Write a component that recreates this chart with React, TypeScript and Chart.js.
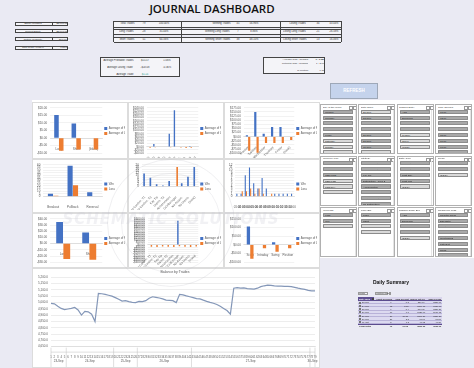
import React, { useEffect, useRef } from "react";
import { Chart, registerables } from "chart.js";
Chart.register(...registerables);

// ---------- DATA ----------
const tradeLabels = Array.from({ length: 79 }, (_, i) => String(i + 1));
const balance = [
  4992, 4989, 4970, 4953, 4943, 4948, 4953, 4960, 4941, 4900,
  4929, 4926, 4907, 4849, 5072, 5069, 5064, 5057, 5050, 5038,
  5026, 5011, 5014, 5006, 5001, 4999, 5009, 5006, 5014, 5033,
  5045, 5040, 5035, 5028, 5018, 5016, 5014, 4999, 5064, 5060,
  5052, 5045, 5038, 5030, 5028, 5018, 5009, 5001, 4994, 4984,
  4970, 4953, 4936, 4907, 5113, 5118, 5113, 5115, 5110, 5108,
  5106, 5113, 5125, 5132, 5137, 5135, 5132, 5130, 5130, 5127,
  5127, 5125, 5120, 5113, 5108, 5103, 5096, 5091, 5091,
];
const dayGroups = ["23-Sep", "24-Sep", "25-Sep", "26-Sep", "27-Sep", "30-Sep"];
const dayGroupSizes = [5, 14, 7, 16, 35, 2];

const avgNames = ["Average of Profit", "Average of Loss"];
const countNames = ["Win", "Loss"];

const sideCats = ["Long", "Short", "(blank)"];
const sideProfit = [15.2, 9.6, 0];
const sideLoss = [-8.4, -7.6, -7.6];

const strategyCats = ["No Confirm. T1", "No Confirm. T2", "Key Tie", "Distrib. T2", "Accumulation", "CCI/Bollinger", "No Accum.", "No Distrib.", "Ending Pattern", "(blank)"];
const strategyProfit = [0, 16, 0, 0, 80, 225, 0, 0, 4, 0];
const strategyLoss = [-6, -3, 0, 0, -4, 0, -5, -8, -6, 0];

const dayCats = ["Monday", "Tuesday", "Wednesday", "Thursday", "Friday", "(blank)"];
const dayProfit = [8, 150, 18, 58, 58, 0];
const dayLoss = [-85, -98, -38, -38, -38, -20];

const setupCats = ["Breakout", "Pullback", "Reversal"];
const setupWin = [5, 58, 8];
const setupLoss = [1, 21, 0];

const strategyCats9 = ["No Confirm. T1", "No Confirm. T2", "Key Tie", "Distrib. T2", "Accumulation", "CCI/Bollinger", "No Accum.", "No Distrib.", "(blank)"];
const strategyWin = [12, 8, 2, 1, 5, 0, 3, 9, 18];
const strategyLossCount = [0, 0, 0, 0, 0, 18, 0, 0, 0];

const timeCats = ["01:00", "02:00", "03:00", "04:00", "05:00", "06:00", "07:00", "08:00", "09:00", "10:00", "11:00", "12:00", "13:00", "14:00"];
const timeWin = [1, 1, 8, 11, 5, 3, 7, 3, 0, 1, 1, 1, 1, 1];
const timeLoss = [0, 2, 2, 3, 1, 3, 1, 0, 1, 0, 0, 0, 0, 0];

const dirCats = ["Long", "Short"];
const dirProfit = [35, 18];
const dirLoss = [-25, -26];

const pairProfit = [0, 0, 0, 0, 0, 553, 0, 0, 0];
const pairLoss = [-45, -50, -40, -45, -50, -30, -45, -50, -40];

const styleCats = ["Scalp", "Intraday", "Swing", "Position"];
const styleProfit = [105, 0, 15, 0];
const styleLoss = [-80, -20, -40, -20];

const equityRows = [
  ["Equity Invested", "$5,000.00"],
  ["Current Equity", "$5,090.00"],
  ["Return on Equity", "$90.00"],
  ["Total Profit / Loss %", "1.80%"],
];
const statsA = [["Total Trades", "79", "100.00%"], ["Long Trades", "28", "35.44%"], ["Short Trades", "51", "64.56%"]];
const statsB = [["Winning Trades", "45", "56.96%"], ["Winning Long Trades", "7", "8.86%"], ["Winning Short Trades", "38", "48.10%"]];
const statsC = [["Losing Trades", "34", "43.04%"], ["Losing Long Trades", "21", "26.58%"], ["Losing Short Trades", "13", "16.46%"]];
const avgRows = [["Average Profitable Trades", "$15.57", "1.06%"], ["Average Losing Trade", "-$18.08", "-0.36%"], ["Average Trade", "$1.14", ""]];
const riskRows = [["Average Risk : Reward", "1 : 0.86"], ["Potential Risk : Reward", "1 : 2.00"], ["", ""], ["R Multiple", "0.86"]];

const slicerData: [string, [string, number][]][] = [
  ["Day of the Week", [["Monday", 1], ["Tuesday", 1], ["Wednesday", 1], ["Thursday", 1], ["Friday", 1], ["Saturday", 0], ["Sunday", 0], ["(blank)", 0]]],
  ["Date Open", [["20-Sep", 0], ["23-Sep", 1], ["24-Sep", 1], ["25-Sep", 1], ["26-Sep", 1], ["27-Sep", 1], ["30-Sep", 1], ["01-Oct", 0]]],
  ["Session Entry", [["Asia", 1], ["European", 1], ["London", 1], ["New York", 1], ["Sydney", 0], ["Tokyo", 0], ["(blank)", 0]]],
  ["Time Opened", [["01:00", 1], ["02:00", 1], ["03:00", 1], ["04:00", 1], ["05:00", 1], ["06:00", 1], ["07:00", 1], ["08:00", 1]]],
  ["Currency Pair", [["AUD/USD", 1], ["EUR/USD", 1], ["GBP/USD", 1], ["NZD/USD", 0], ["USD/JPY", 0], ["(blank)", 0]]],
  ["Strategy", [["No Confirmation - Type 1", 1], ["No Confirmation - Type 2", 1], ["Key Tie", 1], ["Distribution - Type 2", 1], ["Accumulation", 1], ["CCI/Bollinger", 1], ["No Accumulation", 1], ["No Distribution", 1]]],
  ["Entry Type", [["Buy Entry", 1], ["Sell Entry", 1], ["Limit Buy", 1], ["Limit Sell", 1], ["(blank)", 0]]],
  ["Trend", [["Counter", 1], ["Pro", 1], ["(blank)", 0]]],
  ["Win/Loss", [["Loss", 1], ["Win", 1], ["(blank)", 0]]],
  ["Price Bar", [["Long", 1], ["Short", 1], ["0", 0], ["(blank)", 0]]],
  ["Session Close Box", [["Asia", 1], ["European", 1], ["London", 1], ["New York", 1], ["(blank)", 0]]],
  ["Reason for Loss", [["Counter Trend", 1], ["Bad Entry", 1], ["Emotional Decision", 1], ["Early Exit", 1], ["Overtrading", 1], ["Late Exit", 1], ["News", 1], ["Other", 1]]],
];

const summaryHeader = ["Date Open", "Count of Trades", "Sum of Profit", "Sum of Net P/L", "Sum of Loss"];
const summaryRows = [
  ["23-Sep", "6", "8.5", "256.24", "3250.80"],
  ["24-Sep", "13", "13.2", "3290.18", "3150.80"],
  ["25-Sep", "7", "8.4", "518.75", "3250.37"],
  ["26-Sep", "10", "7.8", "3138.06", "2980.15"],
  ["27-Sep", "20", "26.25", "3298.31", "3250.20"],
  ["30-Sep", "21", "2.5", "80.86", "80.50"],
  ["01-Oct", "2", "1.3", "40.12", "40.30"],
];
const summaryTotal = ["Grand Total", "79", "67.95", "3890.36", "3000.90"];

// ---------- STYLE ----------
const BLUE = "#4472c4";
const ORANGE = "#ed7d31";
const TXT = "#595959";
const FONT = "'Liberation Sans', Arial, sans-serif";

function barConfig(labels: string[], a: number[], b: number[], names: string[], min: number, max: number, step: number, zero: boolean, rotate: boolean, money: boolean) {
  return {
    type: "bar",
    data: {
      labels,
      datasets: [
        { label: names[0], data: a, backgroundColor: BLUE, categoryPercentage: 0.55, barPercentage: 0.95 },
        { label: names[1], data: b, backgroundColor: ORANGE, categoryPercentage: 0.55, barPercentage: 0.95 },
      ],
    },
    options: {
      animation: false,
      responsive: false,
      devicePixelRatio: 1,
      layout: { padding: { left: 1, right: 2, top: 3, bottom: 2 } },
      plugins: {
        legend: { position: "right", labels: { boxWidth: 3, boxHeight: 3, font: { size: 3, family: FONT }, color: TXT, padding: 2 } },
        tooltip: { enabled: false },
      },
      scales: {
        x: {
          position: zero ? { y: 0 } : "bottom",
          grid: { display: false },
          border: { color: "#c8c8c8", width: 0.5 },
          ticks: { font: { size: 3, family: FONT }, color: TXT, autoSkip: false, maxRotation: rotate ? 45 : 0, minRotation: rotate ? 45 : 0, padding: 1 },
        },
        y: {
          min, max,
          border: { display: false },
          grid: { color: "#e4e4e4", lineWidth: 0.5, drawTicks: false },
          ticks: {
            stepSize: step, autoSkip: false, font: { size: 3, family: FONT }, color: TXT, padding: 3,
            callback: (v: number) => (money ? (v < 0 ? "-$" : "$") + Math.abs(v).toFixed(2) : String(v)),
          },
        },
      },
    },
  };
}

const groupPlugin = {
  id: "dayGroups",
  afterDraw(chart: any) {
    const { ctx, chartArea } = chart;
    const x = chart.scales.x;
    const top = chartArea.bottom + 6;
    const bottom = chart.height - 1;
    ctx.save();
    ctx.strokeStyle = "#bfbfbf";
    ctx.lineWidth = 0.5;
    ctx.fillStyle = TXT;
    ctx.font = `3px ${FONT}`;
    ctx.textAlign = "center";
    ctx.textBaseline = "middle";
    let start = 0;
    const total = tradeLabels.length;
    dayGroupSizes.forEach((n, gi) => {
      const end = start + n - 1;
      const left = start === 0 ? x.left : (x.getPixelForValue(start - 1) + x.getPixelForValue(start)) / 2;
      const right = end === total - 1 ? x.right : (x.getPixelForValue(end) + x.getPixelForValue(end + 1)) / 2;
      ctx.beginPath();
      ctx.moveTo(left, chartArea.bottom + 1);
      ctx.lineTo(left, bottom);
      ctx.stroke();
      if (end === total - 1) {
        ctx.beginPath();
        ctx.moveTo(right, chartArea.bottom + 1);
        ctx.lineTo(right, bottom);
        ctx.stroke();
      }
      ctx.fillText(dayGroups[gi], (left + right) / 2, (top + bottom) / 2 + 1);
      start += n;
    });
    ctx.beginPath();
    ctx.moveTo(x.left, top - 0.5);
    ctx.lineTo(x.right, top - 0.5);
    ctx.stroke();
    ctx.restore();
  },
};

function lineConfig() {
  return {
    type: "line",
    data: {
      labels: tradeLabels,
      datasets: [{ label: "Balance", data: balance, borderColor: "#8497b8", borderWidth: 1.2, pointRadius: 0, tension: 0 }],
    },
    options: {
      animation: false,
      responsive: false,
      devicePixelRatio: 1,
      layout: { padding: { left: 2, right: 4, top: 0, bottom: 8 } },
      plugins: {
        legend: { display: false },
        tooltip: { enabled: false },
        title: { display: true, text: "Balance by Trades", font: { size: 3.5, family: FONT, weight: "normal" }, color: TXT, padding: { top: 2, bottom: 3 } },
      },
      scales: {
        x: {
          grid: { display: false },
          border: { color: "#d0d0d0", width: 0.5 },
          ticks: { font: { size: 2.8, family: FONT }, color: TXT, autoSkip: false, maxRotation: 0, minRotation: 0, padding: 1 },
        },
        y: {
          min: 4650, max: 5200,
          border: { display: false },
          grid: { color: "#e0e0e0", lineWidth: 0.6, drawTicks: false },
          ticks: {
            stepSize: 50, autoSkip: false, font: { size: 3, family: FONT }, color: TXT, padding: 3,
            callback: (v: number) => v.toLocaleString("en-US", { minimumFractionDigits: 1, maximumFractionDigits: 1 }),
          },
        },
      },
    },
    plugins: [groupPlugin],
  };
}

function ChartBox({ left, top, width, height, make }: { left: number; top: number; width: number; height: number; make: () => any }) {
  const ref = useRef<HTMLCanvasElement>(null);
  useEffect(() => {
    const chart = new Chart(ref.current as HTMLCanvasElement, make());
    return () => chart.destroy();
  }, []);
  return <canvas ref={ref} width={width} height={height} style={{ position: "absolute", left, top, width, height }} />;
}

// tiny text: rendered at 10px and scaled down (browsers clamp tiny font sizes)
const BASE = 10;
function Tx({ x, y, children, size = 2.6, align = "left", color = "#333", bold = false }: any) {
  const k = size / BASE;
  const style: any = {
    position: "absolute", top: y, fontSize: BASE, lineHeight: `${BASE * 1.15}px`, color, whiteSpace: "nowrap",
    fontWeight: bold ? 700 : 400, transform: `scale(${k})`,
  };
  if (align === "right") { style.right = 474 - x; style.transformOrigin = "right top"; }
  else if (align === "center") { style.left = x - 100; style.width = 200; style.textAlign = "center"; style.transformOrigin = "center top"; }
  else { style.left = x; style.transformOrigin = "left top"; }
  return <div style={style}>{children}</div>;
}

function Slicer({ x, y, title, items }: { x: number; y: number; title: string; items: [string, number][] }) {
  return (
    <div style={{ position: "absolute", left: x, top: y, width: 37, height: 50, background: "#fff", border: "0.6px solid #b0b0b0", overflow: "hidden", boxSizing: "border-box" }}>
      <div style={{ position: "absolute", left: 1.5, top: 0.6, fontSize: BASE, lineHeight: "11px", color: "#333", whiteSpace: "nowrap", transform: "scale(0.25)", transformOrigin: "left top" }}>{title}</div>
      <div style={{ position: "absolute", left: 28, top: 1, width: 2, height: 2, border: "0.4px solid #999" }} />
      <div style={{ position: "absolute", left: 32, top: 1, width: 2, height: 2, border: "0.4px solid #999" }} />
      {items.map(([label, on], i) => (
        <div key={i} style={{ position: "absolute", left: 2, top: 4.7 + i * 5.8, width: 30, height: 4.2, background: on ? "#a9a9a9" : "#d9d9d9", border: "0.4px solid #8c8c8c", boxSizing: "border-box", borderRadius: 0.6, overflow: "hidden" }}>
          <div style={{ position: "absolute", left: 1.3, top: 0.5, fontSize: BASE, lineHeight: "11px", color: "#222", whiteSpace: "nowrap", transform: "scale(0.25)", transformOrigin: "left top" }}>{label}</div>
        </div>
      ))}
      <div style={{ position: "absolute", left: 33.5, top: 4.5, width: 1.2, height: 44, background: "#e4e4e4" }} />
    </div>
  );
}

export default function App() {
  useEffect(() => {
    document.body.style.margin = "0";
  }, []);

  const cols = [32, 128, 224];
  const rows = [102, 159, 213];
  const rowH = [57, 54, 55];
  const charts = [
    () => barConfig(sideCats, sideProfit, sideLoss, avgNames, -10, 20, 5, true, false, true),
    () => barConfig(strategyCats, strategyProfit, strategyLoss, avgNames, -40, 240, 20, true, true, true),
    () => barConfig(dayCats, dayProfit, dayLoss, avgNames, -100, 175, 25, true, true, true),
    () => barConfig(setupCats, setupWin, setupLoss, countNames, 0, 60, 5, false, false, false),
    () => barConfig(strategyCats9, strategyWin, strategyLossCount, countNames, 0, 20, 2, false, true, false),
    () => barConfig(timeCats, timeWin, timeLoss, countNames, 0, 12, 1, false, false, false),
    () => barConfig(dirCats, dirProfit, dirLoss, avgNames, -30, 40, 10, true, false, true),
    () => barConfig(strategyCats9, pairProfit, pairLoss, avgNames, -400, 600, 50, true, true, true),
    () => barConfig(styleCats, styleProfit, styleLoss, avgNames, -100, 150, 50, true, false, true),
  ];

  const slX = [320, 358, 396.5, 435];
  const slY = [104, 155.5, 207];
  const sumColsRight = [0, 392, 408.5, 425, 441.5];
  const rowY = (i: number) => 300.8 + i * 3.3;

  return (
    <div style={{ position: "absolute", left: 0, top: 0, width: 474, height: 368, background: "#eaeaf3", overflow: "hidden", fontFamily: FONT }}>
      {/* Title */}
      <div style={{ position: "absolute", left: 112, top: 0, width: 200, textAlign: "center", fontSize: 11.5, fontWeight: 600, fontFamily: "'Open Sans', sans-serif", color: "#111", lineHeight: "17px" }}>JOURNAL DASHBOARD</div>

      {/* Equity table */}
      {equityRows.map((r, i) => {
        const top = [21.5, 29.3, 37.3, 45.5][i];
        return (
          <React.Fragment key={i}>
            <div style={{ position: "absolute", left: 14.5, top, width: 53.5, height: 4, border: "0.6px solid #444", boxSizing: "border-box", background: "#f4f4f8" }}>
              <div style={{ position: "absolute", left: 36, top: 0, width: 0.5, height: 3, background: "#444" }} />
            </div>
            <Tx x={32.5} y={top + 0.6} size={2.5} align="center">{r[0]}</Tx>
            <Tx x={67} y={top + 0.6} size={2.5} align="right">{r[1]}</Tx>
          </React.Fragment>
        );
      })}

      {/* Stats table */}
      <div style={{ position: "absolute", left: 113, top: 21, width: 229, height: 20.5, borderLeft: "0.6px solid #444", borderRight: "0.6px solid #444", boxSizing: "border-box" }}>
        {[0, 1, 2].map((i) => (
          <div key={i} style={{ position: "absolute", left: 0, right: 0, top: i * 7.8, height: 4.7, borderTop: "0.6px solid #444", borderBottom: "0.6px solid #444", background: "#f4f4f8" }} />
        ))}
        <div style={{ position: "absolute", left: 67, top: 0, width: 0.6, height: 20.5, background: "#444" }} />
        <div style={{ position: "absolute", left: 166, top: 0, width: 0.6, height: 20.5, background: "#444" }} />
      </div>
      {[statsA, statsB, statsC].map((sec, si) =>
        sec.map((r, i) => {
          const y = 22.4 + i * 7.8;
          const lx = [134, 230, 306][si];
          const cx = [144, 238, 318][si];
          const px = [164, 254, 334][si];
          return (
            <React.Fragment key={si + "-" + i}>
              <Tx x={lx} y={y} size={2.6} align="right">{r[0]}</Tx>
              <Tx x={cx} y={y} size={2.6} align="center">{r[1]}</Tx>
              <Tx x={px} y={y} size={2.6} align="center">{r[2]}</Tx>
            </React.Fragment>
          );
        })
      )}

      {/* Average box */}
      <div style={{ position: "absolute", left: 100, top: 57, width: 80, height: 20, border: "0.6px solid #444", boxSizing: "border-box", background: "#f4f4f8" }} />
      {avgRows.map((r, i) => (
        <React.Fragment key={i}>
          <Tx x={133} y={58.8 + i * 7.3} size={2.6} align="right">{r[0]}</Tx>
          <Tx x={145} y={58.8 + i * 7.3} size={2.6} align="center" color={i === 2 ? "#2e9e8f" : "#333"}>{r[1]}</Tx>
          <Tx x={167} y={58.8 + i * 7.3} size={2.6} align="center">{r[2]}</Tx>
        </React.Fragment>
      ))}

      {/* Risk box */}
      <div style={{ position: "absolute", left: 263, top: 57, width: 62, height: 16.5, border: "0.6px solid #444", boxSizing: "border-box", background: "#f4f4f8" }} />
      {riskRows.map((r, i) => (
        <React.Fragment key={i}>
          <Tx x={308} y={58.4 + i * 3.6} size={2.5} align="right">{r[0]}</Tx>
          <Tx x={324.3} y={58.4 + i * 3.6} size={2.5} align="right" bold={i === 0}>{r[1]}</Tx>
        </React.Fragment>
      ))}

      {/* Refresh button */}
      <div style={{ position: "absolute", left: 329.5, top: 83, width: 48.5, height: 16, background: "#c5d3ec", border: "0.8px solid #9ea8b8", boxSizing: "border-box" }} />
      <Tx x={353.7} y={88.2} size={4.5} align="center" color="#ffffff" bold>REFRESH</Tx>

      {/* White panel */}
      <div style={{ position: "absolute", left: 32, top: 100, width: 442, height: 158, background: "#fff" }} />
      <div style={{ position: "absolute", left: 32, top: 258, width: 288, height: 110, background: "#fff" }} />

      {/* Chart cells */}
      {charts.map((make, i) => {
        const c = i % 3;
        const r = Math.floor(i / 3);
        return (
          <React.Fragment key={i}>
            <div style={{ position: "absolute", left: cols[c], top: rows[r], width: 96, height: rowH[r], border: "0.5px solid #dcdcdc", boxSizing: "border-box" }} />
            <ChartBox left={cols[c] + 1} top={rows[r] + 1} width={94} height={rowH[r] - 2} make={make} />
          </React.Fragment>
        );
      })}

      {/* Line chart */}
      <div style={{ position: "absolute", left: 32, top: 268, width: 288, height: 100, border: "0.5px solid #dcdcdc", boxSizing: "border-box" }} />
      <ChartBox left={33} top={268} width={286} height={100} make={lineConfig} />

      {/* Watermark */}
      <div style={{ position: "absolute", left: 107, top: 159, width: 126, height: 126, borderRadius: "50%", border: "1px solid rgba(190,190,200,0.25)", pointerEvents: "none" }} />
      <div style={{ position: "absolute", left: 121, top: 173, width: 98, height: 98, borderRadius: "50%", border: "0.8px solid rgba(190,190,200,0.22)", pointerEvents: "none" }} />
      <div style={{ position: "absolute", left: 40, top: 210, width: 262, textAlign: "center", fontSize: 15, fontWeight: 700, fontStyle: "italic", color: "rgba(200,200,210,0.25)", letterSpacing: 1, fontFamily: "'DejaVu Sans', sans-serif", pointerEvents: "none" }}>SCHEMATIC SOLUTIONS</div>

      {/* Slicers */}
      {slicerData.map(([title, items], i) => (
        <Slicer key={i} x={slX[i % 4]} y={slY[Math.floor(i / 4)]} title={title} items={items} />
      ))}

      {/* Daily summary */}
      <Tx x={391} y={278.8} size={5} align="center" color="#111" bold>Daily Summary</Tx>
      <div style={{ position: "absolute", left: 358, top: 292, width: 10, height: 2.8, border: "0.4px solid #999", background: "#f5f5fa", boxSizing: "border-box" }} />
      <Tx x={358.6} y={292.4} size={2.1}>Month</Tx>
      <div style={{ position: "absolute", left: 375, top: 292, width: 13, height: 2.8, border: "0.4px solid #999", background: "#f5f5fa", boxSizing: "border-box" }} />
      <Tx x={375.6} y={292.4} size={2.1}>(Multiple Items)</Tx>
      <div style={{ position: "absolute", left: 388.5, top: 292, width: 2.8, height: 2.8, border: "0.4px solid #999", background: "#fff", boxSizing: "border-box" }} />

      <div style={{ position: "absolute", left: 358, top: 297, width: 84, height: 3.6, background: "#d9d4ec", borderBottom: "0.5px solid #5b4c8e", boxSizing: "border-box" }} />
      <div style={{ position: "absolute", left: 358, top: 297, width: 16, height: 3.6, background: "#5e4f91" }} />
      <div style={{ position: "absolute", left: 371.5, top: 297.6, width: 2.2, height: 2.2, background: "#fff", border: "0.3px solid #444", boxSizing: "border-box" }} />
      <Tx x={358.6} y={297.7} size={2.2} color="#fff" bold>{summaryHeader[0]}</Tx>
      {summaryHeader.slice(1).map((h, i) => (
        <Tx key={i} x={sumColsRight[i + 1]} y={297.7} size={2.1} align="right" bold>{h}</Tx>
      ))}
      {summaryRows.map((r, ri) => (
        <React.Fragment key={ri}>
          <div style={{ position: "absolute", left: 358, top: rowY(ri), width: 84, height: 3.3, background: "#dcdaf0", borderBottom: "0.3px solid #b8b2d8", boxSizing: "border-box" }} />
          <div style={{ position: "absolute", left: 358.8, top: rowY(ri) + 0.7, width: 1.8, height: 1.8, border: "0.3px solid #777", boxSizing: "border-box", background: "#fff" }} />
          <Tx x={361.5} y={rowY(ri) + 0.5} size={2.2}>{r[0]}</Tx>
          {r.slice(1).map((v, i) => (
            <Tx key={i} x={sumColsRight[i + 1]} y={rowY(ri) + 0.5} size={2.2} align="right">{v}</Tx>
          ))}
        </React.Fragment>
      ))}
      <div style={{ position: "absolute", left: 358, top: rowY(7), width: 84, height: 3.4, borderTop: "0.5px solid #5b4c8e", boxSizing: "border-box" }} />
      <Tx x={358.6} y={rowY(7) + 0.6} size={2.2} bold>{summaryTotal[0]}</Tx>
      {summaryTotal.slice(1).map((v, i) => (
        <Tx key={i} x={sumColsRight[i + 1]} y={rowY(7) + 0.6} size={2.2} align="right" bold>{v}</Tx>
      ))}
    </div>
  );
}
